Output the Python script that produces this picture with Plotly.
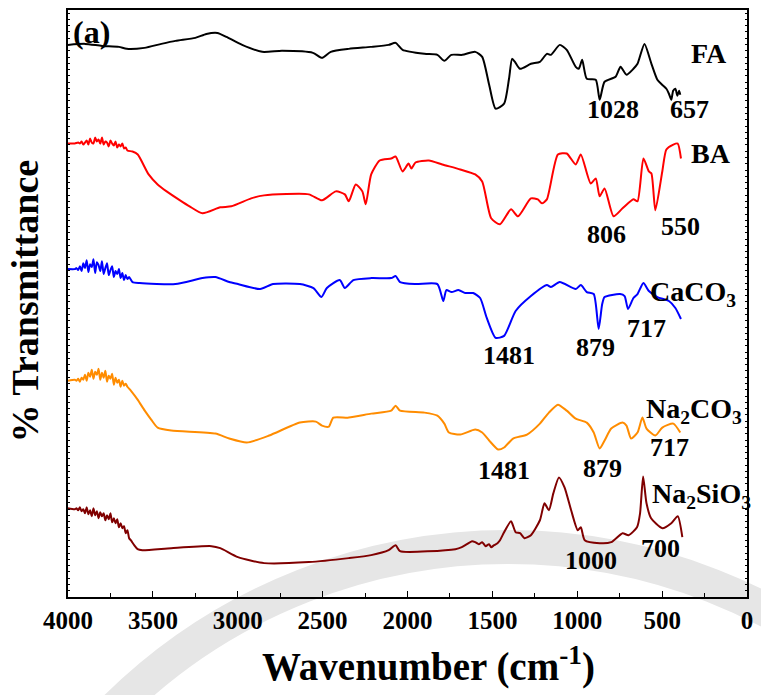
import plotly.graph_objects as go

# FTIR spectra, stacked (transmittance, arbitrary offset units)
fa_wn = [4000, 3900, 3800, 3700, 3654, 3550, 3450, 3367, 3250, 3185, 3120, 3067, 2974, 2856,
         2739, 2557, 2504, 2452, 2346, 2217, 2111, 2070, 2029, 1900, 1824, 1783, 1742, 1677,
         1601, 1560, 1519, 1481, 1431, 1402, 1384, 1367, 1337, 1273, 1220, 1179, 1155, 1103,
         1062, 1009, 991, 971, 944, 891, 868, 839, 774, 745, 710, 669, 645, 604, 563, 528,
         500, 475, 460, 446, 435, 422, 410, 400, 393]
fa_t = [554, 555, 553, 552, 550, 551, 555, 558, 561, 565, 566, 562, 554, 547,
        548, 546, 541, 547, 550, 552, 554, 556, 549, 545, 544, 538, 544, 544,
        547, 542, 514, 490, 495, 520, 540, 537, 530, 535, 537, 545, 544, 554,
        549, 532, 530, 539, 520, 519, 499, 517, 522, 532, 524, 530, 535, 555, 535, 519,
        514, 510, 505, 499, 508, 510, 503, 508, 504]

ba_wn = [4000, 3960, 3940, 3930, 3920, 3910, 3900, 3890, 3880, 3870, 3860, 3850, 3840, 3830,
         3820, 3810, 3800, 3790, 3780, 3770, 3760, 3750, 3740, 3730, 3720, 3710, 3700, 3690,
         3680, 3670, 3660, 3650, 3620, 3589, 3525, 3472, 3419, 3340, 3284, 3208, 3103, 3038,
         2921, 2845, 2581, 2504, 2422, 2369, 2346, 2305, 2266, 2246, 2214, 2164, 2096, 2070,
         2029, 1994, 1977, 1953, 1874, 1795, 1689, 1601, 1560, 1507, 1455, 1390, 1349, 1273,
         1232, 1208, 1179, 1114, 1062, 1009, 979, 921, 891, 868, 839, 786, 733, 669, 645, 610,
         578, 563, 540, 499, 475, 434, 408, 389]
ba_t = [455, 455, 456, 455, 457, 454, 456, 458, 454, 460, 456, 455, 461, 457,
        459, 455, 461, 454, 457, 456, 452, 458, 455, 453, 457, 451, 454, 452,
        455, 450, 451, 448, 447, 444, 424, 414, 407, 398, 392, 385, 391, 392,
        400, 403, 404, 398, 407, 404, 397, 414, 407, 394, 424, 438, 440, 442,
        427, 435, 430, 436, 438, 434, 429, 424, 417, 380, 374, 389, 382, 400,
        399, 395, 399, 444, 445, 434, 444, 415, 420, 402, 410, 382, 390, 399, 397, 440,
        427, 425, 388, 427, 449, 454, 455, 440]

caco3_wn = [4000, 3960, 3950, 3940, 3930, 3920, 3910, 3900, 3890, 3880, 3870, 3860, 3850, 3840,
            3830, 3820, 3810, 3800, 3790, 3780, 3770, 3760, 3750, 3740, 3730, 3720, 3710, 3700,
            3690, 3680, 3670, 3660, 3650, 3640, 3620, 3578, 3367, 3208, 3132, 3050, 2999, 2868,
            2792, 2634, 2554, 2507, 2475, 2399, 2369, 2319, 2214, 2096, 2070, 2044, 1953, 1824,
            1789, 1771, 1740, 1700, 1660, 1613, 1572, 1533, 1481, 1431, 1363, 1273, 1179, 1155,
            1103, 1009, 979, 944, 903, 874, 853, 839, 748, 721, 701, 669, 645, 610, 578, 528,
            460, 422, 389]
caco3_t = [329, 329, 330, 328, 332, 327, 335, 330, 338, 326, 334, 331, 339, 325,
           336, 333, 327, 337, 324, 330, 335, 323, 328, 332, 321, 327, 324, 329,
           320, 325, 318, 323, 319, 321, 316, 315, 314, 320, 321, 316, 314, 309,
           314, 314, 310, 301, 310, 318, 310, 318, 320, 320, 322, 316, 314, 314,
           297, 308, 306, 308, 305, 305, 300, 280, 260, 262, 287, 302, 313, 311,
           316, 309, 313, 306, 304, 269, 294, 301, 304, 302, 289, 300, 304, 315, 307, 301,
           297, 290, 279]

na2co3_wn = [4000, 3960, 3950, 3940, 3930, 3920, 3910, 3900, 3890, 3880, 3870, 3860, 3850, 3840,
             3830, 3820, 3810, 3800, 3790, 3780, 3770, 3760, 3750, 3740, 3730, 3720, 3710, 3700,
             3690, 3680, 3670, 3660, 3650, 3630, 3590, 3548, 3510, 3472, 3392, 3132, 3050, 2947,
             2815, 2634, 2540, 2504, 2463, 2437, 2346, 2214, 2096, 2070, 2044, 1900, 1824, 1783,
             1756, 1689, 1601, 1560, 1519, 1466, 1431, 1378, 1296, 1220, 1167, 1114, 1062, 1009,
             944, 903, 868, 839, 800, 733, 710, 683, 645, 616, 592, 540, 499, 434, 393]
na2co3_t = [217, 218, 217, 219, 216, 220, 218, 223, 217, 225, 221, 228, 219, 226,
            223, 229, 218, 225, 220, 227, 216, 222, 219, 224, 213, 220, 215, 218,
            211, 217, 212, 214, 211, 207, 198, 187, 178, 170, 167, 164, 159, 155,
            162, 175, 176, 172, 171, 180, 180, 184, 187, 192, 187, 185, 182, 174,
            165, 163, 168, 165, 157, 148, 150, 159, 163, 174, 185, 193, 187, 179,
            175, 165, 149, 157, 169, 175, 172, 159, 165, 180, 169, 162, 170, 174, 165]

na2sio3_wn = [4000, 3960, 3950, 3940, 3930, 3920, 3910, 3900, 3890, 3880, 3870, 3860, 3850, 3840,
              3830, 3820, 3810, 3800, 3790, 3780, 3770, 3760, 3750, 3740, 3730, 3720, 3710, 3700,
              3690, 3680, 3670, 3660, 3650, 3640, 3630, 3610, 3590, 3562, 3392, 3155, 3103, 2999,
              2845, 2581, 2346, 2214, 2111, 2070, 2044, 1718, 1680, 1650, 1620, 1601, 1580, 1560,
              1540, 1520, 1507, 1490, 1470, 1455, 1431, 1390, 1363, 1337, 1311, 1273, 1220, 1193,
              1167, 1141, 1108, 1075, 1036, 997, 979, 956, 868, 800, 733, 698, 648, 630, 612, 592,
              565, 499, 446, 408, 381]
na2sio3_t = [89, 88, 89, 87, 90, 86, 88, 84, 90, 83, 87, 81, 89, 82,
             86, 79, 85, 81, 84, 77, 82, 78, 84, 75, 79, 74, 78, 70,
             74, 69, 71, 64, 67, 59, 57, 52, 48, 47, 49, 51, 49, 40,
             34, 35, 39, 42, 47, 52, 46, 48, 50, 53, 56, 55, 53, 55,
             51, 53, 50, 52, 54, 57, 65, 76, 65, 64, 59, 62, 77, 94,
             87, 104, 120, 110, 87, 67, 70, 57, 54, 55, 64, 62, 70, 84, 121, 94,
             79, 69, 74, 81, 60]

series = [
    ("FA", fa_wn, fa_t, "#000000"),
    ("BA", ba_wn, ba_t, "#ff0000"),
    ("CaCO3", caco3_wn, caco3_t, "#0000ff"),
    ("Na2CO3", na2co3_wn, na2co3_t, "#ff8c00"),
    ("Na2SiO3", na2sio3_wn, na2sio3_t, "#800000"),
]

# Sample names and marked band positions (text, wavenumber, level)
name_text = ["FA", "BA", "CaCO<sub>3</sub>", "Na<sub>2</sub>CO<sub>3</sub>", "Na<sub>2</sub>SiO<sub>3</sub>"]
name_wn = [223, 211, 320, 315, 270]
name_lvl = [545, 445, 305, 187, 102]

band_text = ["1028", "657", "806", "550", "1481", "879", "717", "1481", "879", "717", "1000", "700"]
band_wn = [792, 340, 827, 393, 1402, 891, 592, 1431, 850, 457, 921, 510]
band_lvl = [489, 489, 364, 372, 242, 250, 269, 127, 129, 150, 37, 49]

x_ticks = [4000, 3500, 3000, 2500, 2000, 1500, 1000, 500, 0]

SERIF = "Liberation Serif"

fig = go.Figure()
for name, wn, t, color in series:
    fig.add_trace(go.Scatter(x=wn, y=t, mode="lines", name=name,
                             line=dict(color=color, width=2, shape="spline", smoothing=0.6),
                             showlegend=False))

annotations = []
for txt, xw, yl in zip(name_text, name_wn, name_lvl):
    annotations.append(dict(x=xw, y=yl, xref="x", yref="y", text=txt, showarrow=False,
                            font=dict(family=SERIF, size=28, color="black", weight="bold")))
for txt, xw, yl in zip(band_text, band_wn, band_lvl):
    annotations.append(dict(x=xw, y=yl, xref="x", yref="y", text=txt, showarrow=False,
                            font=dict(family=SERIF, size=26, color="black", weight="bold")))
annotations.append(dict(x=3860, y=567, xref="x", yref="y", text="(a)", showarrow=False,
                        font=dict(family=SERIF, size=32, color="black", weight="bold")))
annotations.append(dict(x=-0.063, y=0.504, xref="paper", yref="paper", text="% Transmittance",
                        textangle=-90, showarrow=False, xanchor="center", yanchor="middle",
                        font=dict(family=SERIF, size=38, color="black", weight="bold")))
annotations.append(dict(x=0.531, y=-0.115, xref="paper", yref="paper",
                        text="Wavenumber (cm<sup>-1</sup>)", showarrow=False,
                        xanchor="center", yanchor="middle",
                        font=dict(family=SERIF, size=39, color="black", weight="bold")))

fig.update_layout(
    width=761, height=695,
    margin=dict(l=68, r=11, t=8, b=98),
    paper_bgcolor="white",
    plot_bgcolor="rgba(0,0,0,0)",
    annotations=annotations,
    # faint decorative ring in the background
    shapes=[dict(type="circle", xref="paper", yref="paper", layer="below",
                 x0=-0.170, x1=1.466, y0=-1.79, y1=0.085,
                 line=dict(color="#e6e6e6", width=34))],
)
fig.update_xaxes(
    range=[4000, 0], tickvals=x_ticks, ticktext=[str(v) for v in x_ticks],
    ticks="inside", ticklen=6, tickwidth=1.2, tickcolor="black",
    minor=dict(ticks="inside", ticklen=4, dtick=250, tickcolor="black"),
    showline=True, linecolor="black", linewidth=1.5, mirror=True,
    showgrid=False, zeroline=False,
    tickfont=dict(family=SERIF, size=25, color="black", weight="bold"),
)
fig.update_yaxes(
    range=[0, 589], showticklabels=False,
    ticks="inside", ticklen=2, tick0=0, dtick=6.3, tickcolor="black", tickwidth=1,
    showline=True, linecolor="black", linewidth=1.5, mirror="ticks",
    showgrid=False, zeroline=False,
)

fig.write_html("out.html")
